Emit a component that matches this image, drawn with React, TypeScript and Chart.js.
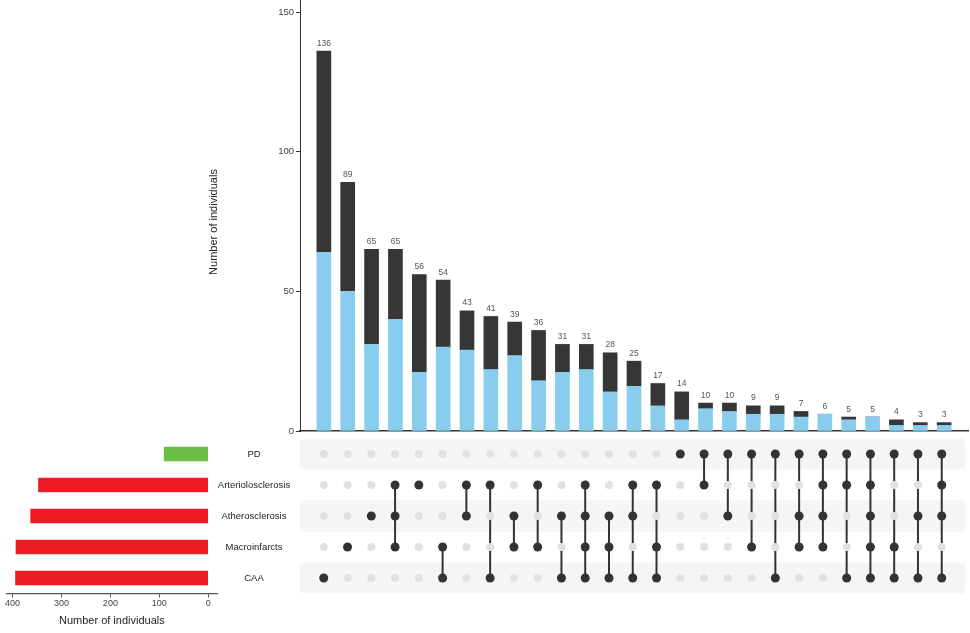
import React, { useEffect, useRef } from 'react';
import { Chart, registerables } from 'chart.js';

Chart.register(...registerables);

const FONT = "'Liberation Sans', Arial, Helvetica, sans-serif";

// Sets (rows of the matrix, top to bottom)
const setNames = ['PD', 'Arteriolosclerosis', 'Atherosclerosis', 'Macroinfarcts', 'CAA'];
const setSizes = [90, 347, 363, 393, 394];
const setColors = ['#6cbd45', '#ed1c24', '#ed1c24', '#ed1c24', '#ed1c24'];

// Intersections (columns, left to right)
const totals = [136, 89, 65, 65, 56, 54, 43, 41, 39, 36, 31, 31, 28, 25, 17, 14, 10, 10, 9, 9, 7, 6, 5, 5, 4, 3, 3];
const lightPart = [64, 50, 31, 40, 21, 30, 29, 22, 27, 18, 21, 22, 14, 16, 9, 4, 8, 7, 6, 6, 5, 6, 4, 5, 2, 2, 2];
// membership by set index: 0 PD, 1 Arteriolosclerosis, 2 Atherosclerosis, 3 Macroinfarcts, 4 CAA
const memberships = [
  [4], [3], [2], [1, 2, 3], [1], [3, 4], [1, 2], [1, 4], [2, 3], [1, 3],
  [2, 4], [1, 2, 3, 4], [2, 3, 4], [1, 2, 4], [1, 3, 4], [0], [0, 1], [0, 2], [0, 3], [0, 4],
  [0, 2, 3], [0, 1, 2, 3], [0, 1, 4], [0, 1, 2, 3, 4], [0, 3, 4], [0, 2, 4], [0, 1, 2, 4],
];

const topYTicks = { min: 0, max: 154.3, step: 50 };
const leftXTicks = { min: -18, max: 412, step: 100 };
const axisTitle = 'Number of individuals';

const LIGHT = '#89cdee';
const DARK = '#363636';

export default function App() {
  const topRef = useRef<HTMLCanvasElement>(null);
  const matRef = useRef<HTMLCanvasElement>(null);
  const leftRef = useRef<HTMLCanvasElement>(null);

  useEffect(() => {
    Chart.defaults.font.family = FONT;
    const xs = totals.map((_, i) => i + 1);

    const totalLabels = {
      id: 'totalLabels',
      afterDatasetsDraw(chart: any) {
        const { ctx } = chart;
        const x = chart.scales.x;
        const y = chart.scales.y;
        ctx.save();
        ctx.font = `8.5px ${FONT}`;
        ctx.fillStyle = '#555';
        ctx.textAlign = 'center';
        ctx.textBaseline = 'bottom';
        totals.forEach((t, i) => {
          ctx.fillText(String(t), x.getPixelForValue(i + 1), y.getPixelForValue(t) - 3.5);
        });
        // y axis title
        ctx.font = `11px ${FONT}`;
        ctx.fillStyle = '#222';
        ctx.textBaseline = 'middle';
        ctx.translate(14, 222);
        ctx.rotate(-Math.PI / 2);
        ctx.fillText(axisTitle, 0, 0);
        ctx.restore();
      },
    };

    const top = new Chart(topRef.current as HTMLCanvasElement, {
      type: 'bar',
      data: {
        datasets: [
          {
            label: 'light',
            data: xs.map((x, i) => ({ x, y: lightPart[i] })),
            backgroundColor: LIGHT,
            barThickness: 14,
          },
          {
            label: 'dark',
            data: xs.map((x, i) => ({ x, y: totals[i] - lightPart[i] })),
            backgroundColor: DARK,
            barThickness: 14,
          },
        ],
      } as any,
      options: {
        responsive: false,
        animation: false,
        layout: { padding: { left: 0, right: 2, top: 0, bottom: 9 } },
        plugins: { legend: { display: false }, tooltip: { enabled: false } },
        scales: {
          x: {
            type: 'linear',
            min: 0,
            max: 28,
            offset: false,
            stacked: true,
            grid: { display: false, offset: false },
            ticks: { display: false },
            border: { color: '#333', width: 1.5 },
            afterFit: (s: any) => {
              s.height = 0;
              s.paddingLeft = 0;
              s.paddingRight = 0;
            },
          },
          y: {
            type: 'linear',
            min: topYTicks.min,
            max: topYTicks.max,
            stacked: true,
            ticks: {
              stepSize: topYTicks.step,
              includeBounds: false,
              padding: 2,
              color: '#444',
              font: { size: 9.5 },
            },
            grid: { drawOnChartArea: false, tickLength: 4, color: '#333' },
            border: { color: '#333', width: 1 },
            afterFit: (s: any) => {
              s.width = 100;
              s.paddingTop = 0;
              s.paddingBottom = 0;
            },
          },
        },
      } as any,
      plugins: [totalLabels],
    });

    // Matrix
    const stripes = {
      id: 'stripes',
      beforeDatasetsDraw(chart: any) {
        const { ctx, chartArea } = chart;
        const y = chart.scales.y;
        ctx.save();
        ctx.fillStyle = '#f5f5f5';
        setNames.forEach((_, r) => {
          if (r % 2 !== 0) return;
          const y1 = y.getPixelForValue(r - 0.5);
          const y2 = y.getPixelForValue(r + 0.5);
          const t = Math.min(y1, y2);
          const h = Math.abs(y2 - y1);
          ctx.beginPath();
          if ((ctx as any).roundRect) (ctx as any).roundRect(chartArea.left, t, chartArea.right - chartArea.left, h, 4);
          else ctx.rect(chartArea.left, t, chartArea.right - chartArea.left, h);
          ctx.fill();
        });
        ctx.restore();
      },
    };

    const greyPoints: { x: number; y: number }[] = [];
    memberships.forEach((m, c) => {
      setNames.forEach((_, r) => {
        if (!m.includes(r)) greyPoints.push({ x: c + 1, y: r });
      });
    });
    const matDatasets: any[] = [
      {
        label: 'empty',
        data: greyPoints,
        showLine: false,
        pointRadius: 4,
        pointBackgroundColor: '#e1e1e1',
        pointBorderWidth: 0,
      },
    ];
    memberships.forEach((m, c) => {
      matDatasets.push({
        label: 'c' + c,
        data: [...m].sort((a, b) => a - b).map((r) => ({ x: c + 1, y: r })),
        showLine: true,
        borderColor: '#333',
        borderWidth: 2,
        pointRadius: 4.5,
        pointBackgroundColor: '#333',
        pointBorderWidth: 0,
      });
    });

    const mat = new Chart(matRef.current as HTMLCanvasElement, {
      type: 'scatter',
      data: { datasets: matDatasets },
      options: {
        responsive: false,
        animation: false,
        layout: { padding: { left: 100, right: 2, top: 7.5, bottom: 7.5 } },
        plugins: { legend: { display: false }, tooltip: { enabled: false } },
        scales: {
          x: { type: 'linear', min: 0, max: 28, display: false },
          y: { type: 'linear', min: -0.5, max: setNames.length - 0.5, reverse: true, display: false },
        },
      } as any,
      plugins: [stripes],
    });

    // Left set size bars
    const setLabels = {
      id: 'setLabels',
      afterDatasetsDraw(chart: any) {
        const { ctx } = chart;
        const y = chart.scales.y;
        ctx.save();
        ctx.font = `9.5px ${FONT}`;
        ctx.fillStyle = '#222';
        ctx.textAlign = 'center';
        ctx.textBaseline = 'middle';
        setNames.forEach((n, i) => {
          ctx.fillText(n, 254, y.getPixelForValue(i));
        });
        ctx.restore();
      },
    };

    const left = new Chart(leftRef.current as HTMLCanvasElement, {
      type: 'bar',
      data: {
        labels: setNames,
        datasets: [
          {
            label: 'size',
            data: setSizes,
            backgroundColor: setColors,
            barThickness: 14,
          },
        ],
      },
      options: {
        indexAxis: 'y',
        responsive: false,
        animation: false,
        layout: { padding: { left: 6.7, right: 0, top: 7.5, bottom: 0 } },
        plugins: { legend: { display: false }, tooltip: { enabled: false } },
        scales: {
          x: {
            type: 'linear',
            reverse: true,
            min: leftXTicks.min,
            max: leftXTicks.max,
            ticks: {
              stepSize: leftXTicks.step,
              includeBounds: false,
              color: '#444',
              font: { size: 9 },
              padding: 1,
            },
            grid: { drawOnChartArea: false, tickLength: 4, color: '#555' },
            border: { color: '#555', width: 1.2 },
            title: {
              display: true,
              text: axisTitle,
              font: { size: 11 },
              color: '#222',
              padding: { top: 0, bottom: 5.5 },
            },
            afterFit: (s: any) => {
              s.height = 39.5;
              s.paddingLeft = 0;
              s.paddingRight = 0;
            },
          },
          y: {
            type: 'category',
            position: 'right',
            grid: { display: false },
            border: { display: false },
            ticks: { display: false },
            afterFit: (s: any) => {
              s.width = 83;
              s.paddingTop = 0;
              s.paddingBottom = 0;
            },
          },
        },
      } as any,
      plugins: [setLabels],
    });

    return () => {
      top.destroy();
      mat.destroy();
      left.destroy();
    };
  }, []);

  return (
    <div style={{ position: 'fixed', left: 0, top: 0, width: 970, height: 633, background: '#fff' }}>
      <canvas ref={topRef} width={770} height={440} style={{ position: 'absolute', left: 200, top: 0, width: 770, height: 440 }} />
      <canvas ref={matRef} width={770} height={170} style={{ position: 'absolute', left: 200, top: 431, width: 770, height: 170 }} />
      <canvas ref={leftRef} width={300} height={202} style={{ position: 'absolute', left: 0, top: 431, width: 300, height: 202 }} />
    </div>
  );
}
